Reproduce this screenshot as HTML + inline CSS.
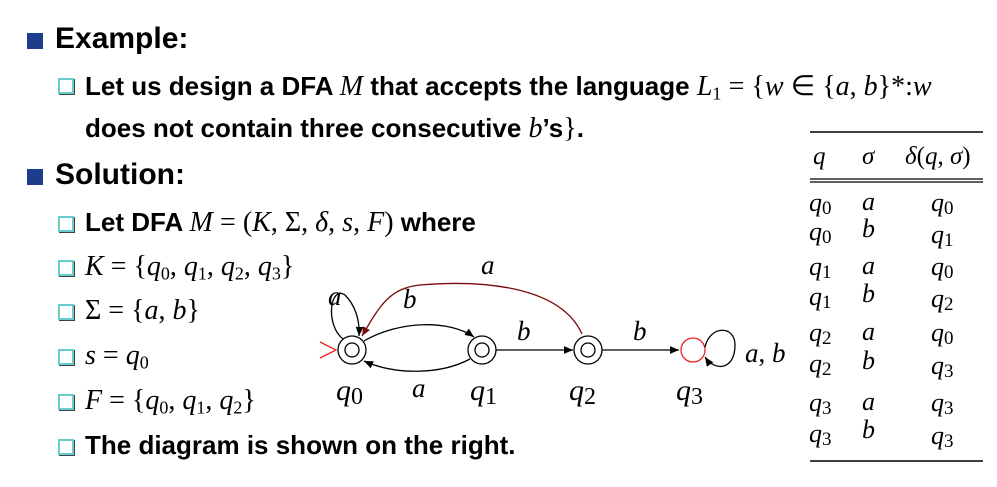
<!DOCTYPE html>
<html><head><meta charset="utf-8"><style>
body{margin:0;width:997px;height:487px;background:#fff;position:relative;overflow:hidden;font-family:"Liberation Sans",sans-serif}
.t{position:absolute;white-space:nowrap;font-weight:bold;color:#000}
.h{font-size:30px}
.s{font-size:26px}
.m{font-family:"Liberation Serif",serif;font-style:italic;font-weight:normal;font-size:28px}
.r{font-family:"Liberation Serif",serif;font-weight:normal;font-size:28px}
.b{font-size:18px;vertical-align:-0.25em;font-family:"Liberation Serif",serif;font-weight:normal}
.sq{position:absolute;width:16px;height:16px;background:#1c3d8c}
.hs{position:absolute;width:12px;height:12px;border:2px solid #6cc;background:#fff;box-shadow:1px 1px 0 #444}
</style></head><body>
<div class="sq" style="left:27px;top:33px"></div>
<div class="t h" style="left:55px;top:22px">Example:</div>
<div class="hs" style="left:58px;top:78px"></div>
<div class="t s" style="left:85px;top:69px">Let us design a DFA <span class="m">M</span> that accepts the language <span class="m">L</span><span class="b">1</span> <span class="r">= {</span><span class="m">w</span> <span class="r">∈ {</span><span class="m">a</span><span class="r">, </span><span class="m">b</span><span class="r">}*:</span><span class="m">w</span></div>
<div class="t s" style="left:85px;top:113px">does not contain three consecutive <span class="m">b</span>’s<span class="r">}</span>.</div>
<div class="sq" style="left:27px;top:169px"></div>
<div class="t h" style="left:55px;top:158px">Solution:</div>
<div class="hs" style="left:58px;top:216px"></div>
<div class="t s" style="left:85px;top:207px">Let DFA <span class="m">M</span> <span class="r">= (</span><span class="m">K</span><span class="r">, Σ, </span><span class="m">δ</span><span class="r">, </span><span class="m">s</span><span class="r">, </span><span class="m">F</span><span class="r">)</span> where</div>
<div class="hs" style="left:58px;top:260px"></div>
<div class="t s" style="left:85px;top:251px"><span class="m">K</span><span class="r"> = {</span><span class="m">q</span><span class="b">0</span><span class="r">, </span><span class="m">q</span><span class="b">1</span><span class="r">, </span><span class="m">q</span><span class="b">2</span><span class="r">, </span><span class="m">q</span><span class="b">3</span><span class="r">}</span></div>
<div class="hs" style="left:58px;top:304px"></div>
<div class="t s" style="left:85px;top:295px"><span class="r">Σ = {</span><span class="m">a</span><span class="r">, </span><span class="m">b</span><span class="r">}</span></div>
<div class="hs" style="left:58px;top:349px"></div>
<div class="t s" style="left:85px;top:340px"><span class="m">s</span><span class="r"> = </span><span class="m">q</span><span class="b">0</span></div>
<div class="hs" style="left:58px;top:394px"></div>
<div class="t s" style="left:85px;top:385px"><span class="m">F</span><span class="r"> = {</span><span class="m">q</span><span class="b">0</span><span class="r">, </span><span class="m">q</span><span class="b">1</span><span class="r">, </span><span class="m">q</span><span class="b">2</span><span class="r">}</span></div>
<div class="hs" style="left:58px;top:439px"></div>
<div class="t s" style="left:85px;top:430px">The diagram is shown on the right.</div>

<svg width="997" height="487" style="position:absolute;left:0;top:0" font-family="Liberation Serif,serif" font-style="italic" font-size="27">
<defs><marker id="ar" markerWidth="8" markerHeight="8" refX="7" refY="4" orient="auto"><path d="M0,1 L7,4 L0,7Z" fill="#000"/></marker>
<marker id="ar2" markerWidth="8" markerHeight="8" refX="7" refY="4" orient="auto"><path d="M0,1 L7,4 L0,7Z" fill="#7a0a0a"/></marker></defs>
<g fill="none" stroke="#000" stroke-width="1.3">
<circle cx="352" cy="350" r="14"/><circle cx="352" cy="350" r="7"/>
<circle cx="482" cy="350" r="14"/><circle cx="482" cy="350" r="7"/>
<circle cx="588" cy="350" r="14"/><circle cx="588" cy="350" r="7"/>
<circle cx="693" cy="350" r="12" stroke="#e22"/>
<path d="M320,342 L336,350 L320,358" stroke="#e22"/>
<path d="M343,339 C325,325 330,285 345,295 C355,305 360,320 359,336" marker-end="url(#ar)"/>
<path d="M364,341 C400,320 450,320 474,337" marker-end="url(#ar)"/>
<path d="M470,359 C440,375 395,375 364,361" marker-end="url(#ar)"/>
<path d="M496,350 L573,350" marker-end="url(#ar)"/>
<path d="M602,350 L679,350" marker-end="url(#ar)"/>
<path d="M705,347 C710,325 735,325 735,345 C735,370 715,372 705,357" marker-end="url(#ar)"/>
<path d="M582,334 C560,285 480,280 420,285 C390,288 380,305 362,336" stroke="#7a0a0a" marker-end="url(#ar2)"/>
</g>
<text x="328" y="305">a</text>
<text x="403" y="308">b</text>
<text x="481" y="274">a</text>
<text x="517" y="340">b</text>
<text x="633" y="340">b</text>
<text x="745" y="362" font-style="normal"><tspan font-style="italic">a</tspan>, <tspan font-style="italic">b</tspan></text>
<text x="412" y="397">a</text>
<g font-size="30">
<text x="336" y="400">q<tspan font-style="normal" font-size="24" dy="4">0</tspan></text>
<text x="470" y="400">q<tspan font-style="normal" font-size="24" dy="4">1</tspan></text>
<text x="569" y="400">q<tspan font-style="normal" font-size="24" dy="4">2</tspan></text>
<text x="676" y="400">q<tspan font-style="normal" font-size="24" dy="4">3</tspan></text>
</g>
<g stroke="#000"><line x1="810" y1="132" x2="983" y2="132" stroke-width="1.5"/><line x1="810" y1="179" x2="983" y2="179" stroke-width="1.2"/><line x1="810" y1="182" x2="983" y2="182" stroke-width="1.2"/><line x1="810" y1="461" x2="983" y2="461" stroke-width="1.5"/></g>
<g font-size="25">
<text x="813" y="164">q</text><text x="862" y="164">σ</text><text x="905" y="164">δ<tspan font-style="normal">(</tspan>q<tspan font-style="normal">, </tspan>σ<tspan font-style="normal">)</tspan></text>
<g font-size="26">
<text x="809" y="211">q<tspan font-style="normal" font-size="19" dy="3">0</tspan></text><text x="862" y="210">a</text><text x="931" y="211">q<tspan font-style="normal" font-size="19" dy="3">0</tspan></text>
<text x="809" y="240">q<tspan font-style="normal" font-size="19" dy="3">0</tspan></text><text x="862" y="237">b</text><text x="931" y="243">q<tspan font-style="normal" font-size="19" dy="3">1</tspan></text>
<text x="809" y="275">q<tspan font-style="normal" font-size="19" dy="3">1</tspan></text><text x="862" y="274">a</text><text x="931" y="275">q<tspan font-style="normal" font-size="19" dy="3">0</tspan></text>
<text x="809" y="305">q<tspan font-style="normal" font-size="19" dy="3">1</tspan></text><text x="862" y="302">b</text><text x="931" y="307">q<tspan font-style="normal" font-size="19" dy="3">2</tspan></text>
<text x="809" y="341">q<tspan font-style="normal" font-size="19" dy="3">2</tspan></text><text x="862" y="340">a</text><text x="931" y="341">q<tspan font-style="normal" font-size="19" dy="3">0</tspan></text>
<text x="809" y="372">q<tspan font-style="normal" font-size="19" dy="3">2</tspan></text><text x="862" y="369">b</text><text x="931" y="374">q<tspan font-style="normal" font-size="19" dy="3">3</tspan></text>
<text x="809" y="411">q<tspan font-style="normal" font-size="19" dy="3">3</tspan></text><text x="862" y="410">a</text><text x="931" y="411">q<tspan font-style="normal" font-size="19" dy="3">3</tspan></text>
<text x="809" y="442">q<tspan font-style="normal" font-size="19" dy="3">3</tspan></text><text x="862" y="438">b</text><text x="931" y="444">q<tspan font-style="normal" font-size="19" dy="3">3</tspan></text>
</g></g>
</svg>
</body></html>
